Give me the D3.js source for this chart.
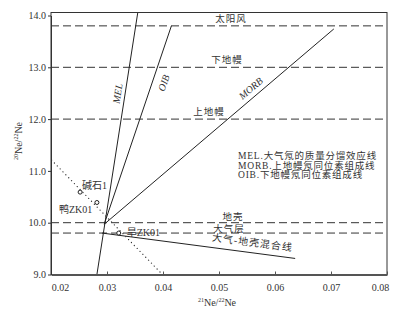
<!DOCTYPE html>
<html>
<head>
<meta charset="utf-8">
<script src="https://cdn.jsdelivr.net/npm/d3@7"></script>
<style>
	body { margin: 0; background: #fff; }
	text { font-family: "Liberation Serif", "Noto Sans CJK SC", serif; fill: #333; }
</style>
</head>
<body>
<svg id="chart" width="409" height="310"></svg>
<script>
// ticks
var xTicks = [0.02, 0.03, 0.04, 0.05, 0.06, 0.07, 0.08];
var yTicks = [9.0, 10.0, 11.0, 12.0, 13.0, 14.0];

// horizontal reference values (20Ne/22Ne)
var refNames = ["太阳风", "下地幔", "上地幔", "地壳", "大气层"];
var refValues = [13.8, 13.0, 12.0, 10.0, 9.8];

// trend lines [21Ne/22Ne, 20Ne/22Ne]
var melLine = [[0.0282, 9.0], [0.0355, 14.06]];
var oibLine = [[0.0295, 9.97], [0.0415, 13.8]];
var morbLine = [[0.0295, 9.97], [0.0705, 13.74]];
var mixLine = [[0.0291, 9.8], [0.0636, 9.31]];
var fitLine = [[0.0201, 11.21], [0.0399, 9.0]];

// samples
var sampleNames = ["碱石1", "鸭ZK01", "旱ZK01"];
var sampleX = [0.0252, 0.0282, 0.0321];
var sampleY = [10.59, 10.39, 9.80];

var legendLines = ["MEL.大气氖的质量分馏效应线", "MORB.上地幔氖同位素组成线", "OIB.下地幔氖同位素组成线"];

var svg = d3.select("#chart");
var x = d3.scaleLinear().domain([0.02, 0.08]).range([51, 387]);
var y = d3.scaleLinear().domain([9, 14]).range([274.5, 15.5]);
var TOP = 12.5;

var line = d3.line()
	.x(function(d) { return x(d[0]); })
	.y(function(d) { return y(d[1]); });

svg.append("clipPath").attr("id", "plot-clip")
	.append("rect")
	.attr("x", x(0.02)).attr("y", TOP)
	.attr("width", x(0.08) - x(0.02))
	.attr("height", y(9) - TOP);

var plot = svg.append("g").attr("clip-path", "url(#plot-clip)");

// dashed reference lines
plot.selectAll(".ref")
	.data(refValues)
	.enter()
	.append("line")
	.attr("x1", x(0.02))
	.attr("x2", x(0.08))
	.attr("y1", function(d) { return y(d); })
	.attr("y2", function(d) { return y(d); })
	.attr("stroke", "#333")
	.attr("stroke-width", 1)
	.attr("stroke-dasharray", "8,4");

// solid trend lines
[melLine, oibLine, morbLine, mixLine].forEach(function(pts) {
	plot.append("path")
		.attr("d", line(pts))
		.attr("fill", "none")
		.attr("stroke", "#222")
		.attr("stroke-width", 1);
});

// dotted fit line
plot.append("path")
	.attr("d", line(fitLine))
	.attr("fill", "none")
	.attr("stroke", "#333")
	.attr("stroke-width", 1.2)
	.attr("stroke-linecap", "round")
	.attr("stroke-dasharray", "0.1,4");

// frame
svg.append("rect")
	.attr("x", x(0.02)).attr("y", TOP)
	.attr("width", x(0.08) - x(0.02))
	.attr("height", y(9) - TOP)
	.attr("fill", "none")
	.attr("stroke", "#333")
	.attr("stroke-width", 1);

// axes
var xAxis = svg.append("g")
	.attr("transform", "translate(0," + y(9) + ")")
	.call(d3.axisBottom(x).tickValues(xTicks).tickSizeInner(-3).tickSizeOuter(0).tickPadding(9)
		.tickFormat(d3.format(".2f")));
xAxis.select(".domain").attr("stroke", "#555").attr("stroke-width", 2);
xAxis.selectAll(".tick line").attr("stroke", "#555");
xAxis.selectAll(".tick text").attr("font-size", 10)
	.attr("dx", function(d, i) { return i == 0 ? 9 : (i == xTicks.length - 1 ? -7 : 0); });

var yAxis = svg.append("g")
	.attr("transform", "translate(" + x(0.02) + ",0)")
	.call(d3.axisLeft(y).tickValues(yTicks).tickSizeInner(3).tickSizeOuter(0).tickPadding(2)
		.tickFormat(d3.format(".1f")));
yAxis.select(".domain").attr("stroke", "#333");
yAxis.selectAll(".tick line").attr("stroke", "#333");
yAxis.selectAll(".tick text").attr("font-size", 10);

// axis titles
var xTitle = svg.append("text")
	.attr("x", 217).attr("y", 306)
	.attr("text-anchor", "middle")
	.attr("font-size", 10);
xTitle.append("tspan").attr("font-size", 6).attr("dy", -4).text("21");
xTitle.append("tspan").attr("dy", 4).text("Ne/");
xTitle.append("tspan").attr("font-size", 6).attr("dy", -4).text("22");
xTitle.append("tspan").attr("dy", 4).text("Ne");

var yTitle = svg.append("text")
	.attr("transform", "translate(22,141) rotate(-90)")
	.attr("text-anchor", "middle")
	.attr("font-size", 10);
yTitle.append("tspan").attr("font-size", 6).attr("dy", -4).text("20");
yTitle.append("tspan").attr("dy", 4).text("Ne/");
yTitle.append("tspan").attr("font-size", 6).attr("dy", -4).text("22");
yTitle.append("tspan").attr("dy", 4).text("Ne");

// reference line labels
var refLabelX = [231, 227, 209, 233, 229];
var refLabelDy = [-4, -4, -4, -3, -1];
svg.selectAll(".ref-label")
	.data(refNames)
	.enter()
	.append("text")
	.attr("x", function(d, i) { return refLabelX[i]; })
	.attr("y", function(d, i) { return y(refValues[i]) + refLabelDy[i]; })
	.attr("text-anchor", "middle")
	.attr("font-size", 9.5)
	.attr("letter-spacing", 1)
	.text(function(d) { return d; });

// trend line labels, rotated along lines
function lineLabel(txt, px, py, pts) {
	var ang = Math.atan2(y(pts[1][1]) - y(pts[0][1]), x(pts[1][0]) - x(pts[0][0])) * 180 / Math.PI;
	svg.append("text")
		.attr("transform", "translate(" + px + "," + py + ") rotate(" + ang + ")")
		.attr("text-anchor", "middle")
		.attr("font-size", 10)
		.attr("font-style", /[A-Z]/.test(txt) ? "italic" : "normal")
		.attr("letter-spacing", /[A-Z]/.test(txt) ? 0 : 1)
		.text(txt);
}
lineLabel("MEL", 121, 94, melLine);
lineLabel("OIB", 167, 84, oibLine);
lineLabel("MORB", 253, 91, morbLine);
lineLabel("大气-地壳混合线", 252, 246, mixLine);

// samples
svg.selectAll(".sample")
	.data(sampleX)
	.enter()
	.append("circle")
	.attr("cx", function(d) { return x(d); })
	.attr("cy", function(d, i) { return y(sampleY[i]); })
	.attr("r", 2)
	.attr("fill", "#fff")
	.attr("stroke", "#222")
	.attr("stroke-width", 1);

var sampleDx = [2, -38, 8];
var sampleDy = [-3, 11, 3];
svg.selectAll(".sample-label")
	.data(sampleNames)
	.enter()
	.append("text")
	.attr("x", function(d, i) { return x(sampleX[i]) + sampleDx[i]; })
	.attr("y", function(d, i) { return y(sampleY[i]) + sampleDy[i]; })
	.attr("font-size", 10)
	.text(function(d) { return d; });

// legend
svg.selectAll(".legend")
	.data(legendLines)
	.enter()
	.append("text")
	.attr("x", 238)
	.attr("y", function(d, i) { return 159 + i * 9.5; })
	.attr("font-size", 9.5)
	.attr("letter-spacing", 0.8)
	.text(function(d) { return d; });
</script>
</body>
</html>
